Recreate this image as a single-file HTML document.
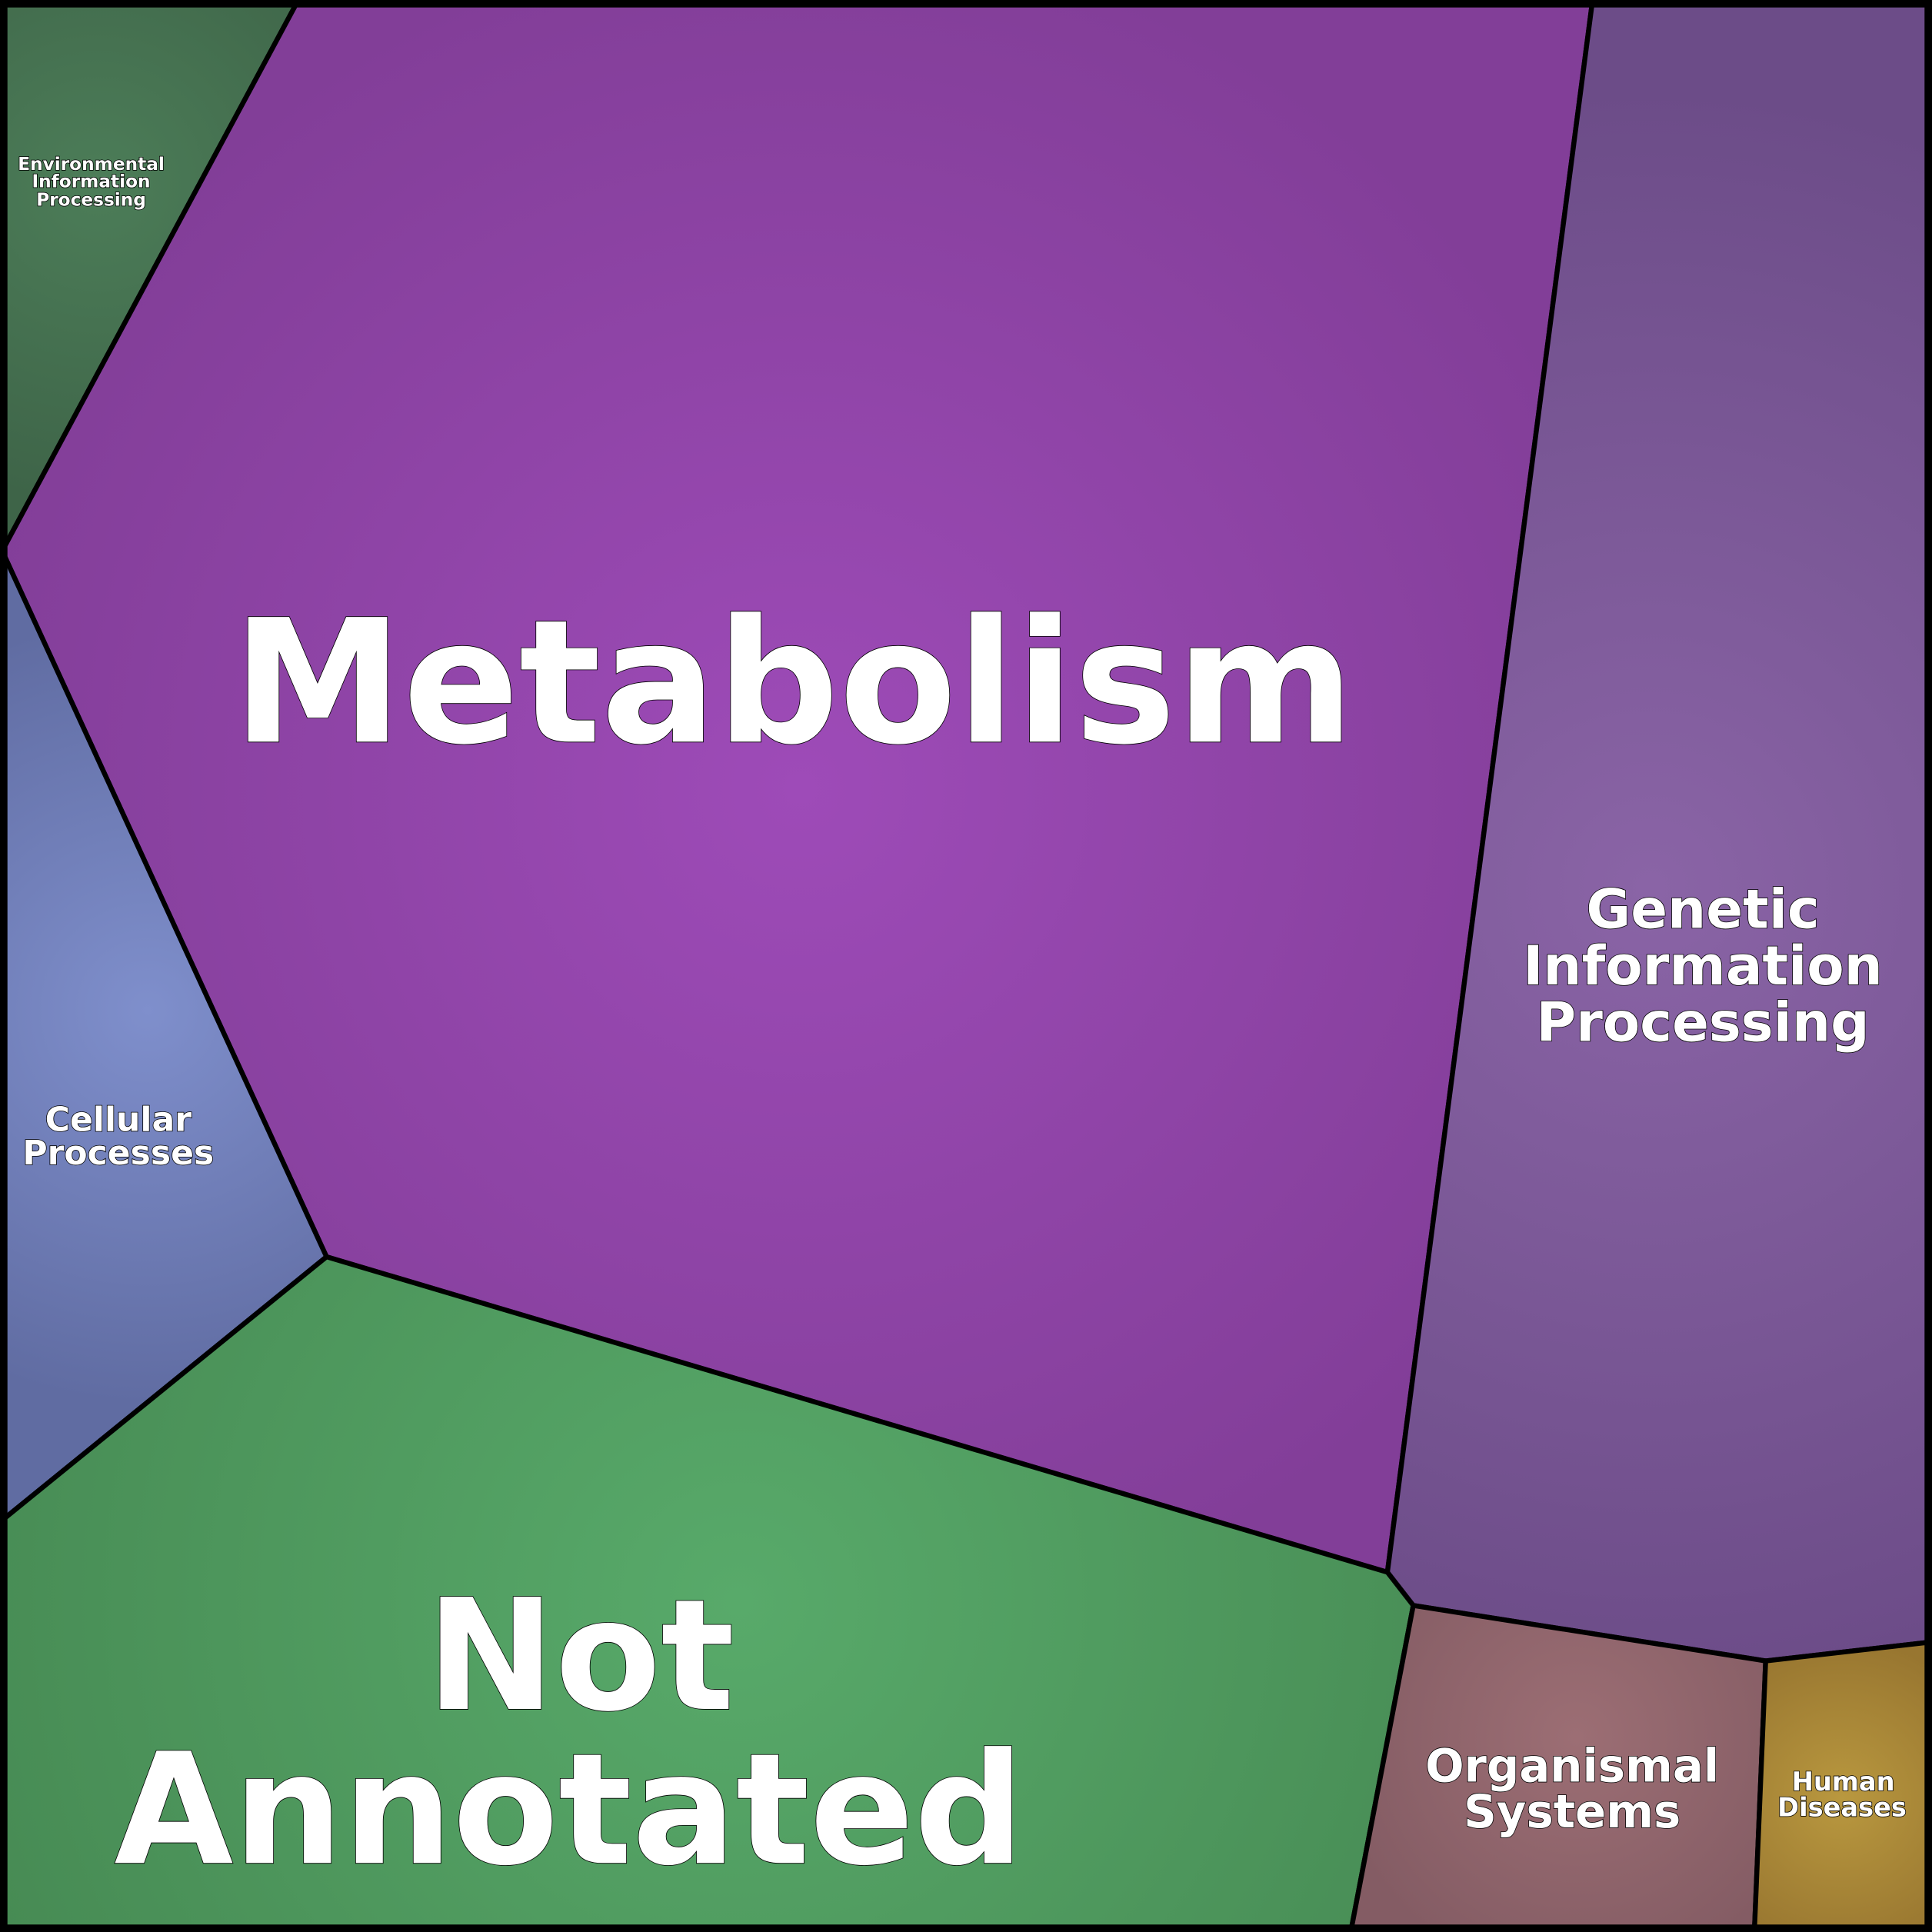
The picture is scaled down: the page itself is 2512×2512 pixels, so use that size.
<!DOCTYPE html>
<html><head><meta charset="utf-8"><style>html,body{margin:0;padding:0;background:#000}svg{display:block}text{font-family:"DejaVu Sans","Liberation Sans",sans-serif;font-weight:bold;fill:#fff;stroke:#000;stroke-width:1;text-anchor:middle;paint-order:stroke}</style></head><body>
<svg width="2512" height="2512" viewBox="0 0 1568 1568" xmlns="http://www.w3.org/2000/svg">
<defs>
<radialGradient id="gm" cx="650" cy="640" r="700" gradientUnits="userSpaceOnUse"><stop offset="0" stop-color="#9e4bb8"/><stop offset="1" stop-color="#823e98"/></radialGradient>
<radialGradient id="ge" cx="80" cy="150" r="260" gradientUnits="userSpaceOnUse"><stop offset="0" stop-color="#4c7d58"/><stop offset="1" stop-color="#3e6448"/></radialGradient>
<radialGradient id="gg" cx="1340" cy="720" r="650" gradientUnits="userSpaceOnUse"><stop offset="0" stop-color="#8a64a6"/><stop offset="1" stop-color="#6c4c88"/></radialGradient>
<radialGradient id="gc" cx="120" cy="820" r="320" gradientUnits="userSpaceOnUse"><stop offset="0" stop-color="#7f8fcc"/><stop offset="1" stop-color="#606ca2"/></radialGradient>
<radialGradient id="gn" cx="600" cy="1300" r="650" gradientUnits="userSpaceOnUse"><stop offset="0" stop-color="#58aa6a"/><stop offset="1" stop-color="#478b54"/></radialGradient>
<radialGradient id="go" cx="1280" cy="1410" r="200" gradientUnits="userSpaceOnUse"><stop offset="0" stop-color="#9c6e74"/><stop offset="1" stop-color="#845c64"/></radialGradient>
<radialGradient id="gh" cx="1495" cy="1460" r="130" gradientUnits="userSpaceOnUse"><stop offset="0" stop-color="#b9983f"/><stop offset="1" stop-color="#987630"/></radialGradient>
</defs>
<g stroke="#000" stroke-width="4" stroke-linejoin="round">
<polygon fill="url(#ge)" points="4,4 240,4 4,443"/>
<polygon fill="url(#gm)" points="240,4 1292,4 1126,1276 265,1020 4,452 4,443"/>
<polygon fill="url(#gg)" points="1292,4 1564,4 1564,1333 1433,1348 1147,1303 1126,1276"/>
<polygon fill="url(#gc)" points="4,452 265,1020 4,1232"/>
<polygon fill="url(#gn)" points="4,1232 265,1020 1126,1276 1147,1303 1097,1564 4,1564"/>
<polygon fill="url(#go)" points="1147,1303 1433,1348 1424,1564 1097,1564"/>
<polygon fill="url(#gh)" points="1433,1348 1564,1333 1564,1564 1424,1564"/>
</g>
<rect x="3" y="3" width="1562" height="1562" fill="none" stroke="#000" stroke-width="6"/>
<text x="644" y="602" font-size="139" stroke-width="2">Metabolism</text>
<text x="471" y="1387" font-size="125" stroke-width="2">Not</text>
<text x="462" y="1512" font-size="125" stroke-width="2">Annotated</text>
<text x="1382" y="753" font-size="44">Genetic</text>
<text x="1382" y="799" font-size="44">Information</text>
<text x="1382" y="845" font-size="44">Processing</text>
<text x="96" y="918" font-size="27.5">Cellular</text>
<text x="96" y="945" font-size="27.5">Processes</text>
<text x="74" y="138" font-size="14.5" stroke-width="0.6">Environmental</text>
<text x="74" y="152" font-size="14.5" stroke-width="0.6">Information</text>
<text x="74" y="167" font-size="14.5" stroke-width="0.6">Processing</text>
<text x="1276" y="1446" font-size="37">Organismal</text>
<text x="1276" y="1483" font-size="37">Systems</text>
<text x="1496" y="1453" font-size="21" stroke-width="0.7">Human</text>
<text x="1495" y="1474" font-size="21" stroke-width="0.7">Diseases</text>
</svg>
</body></html>
